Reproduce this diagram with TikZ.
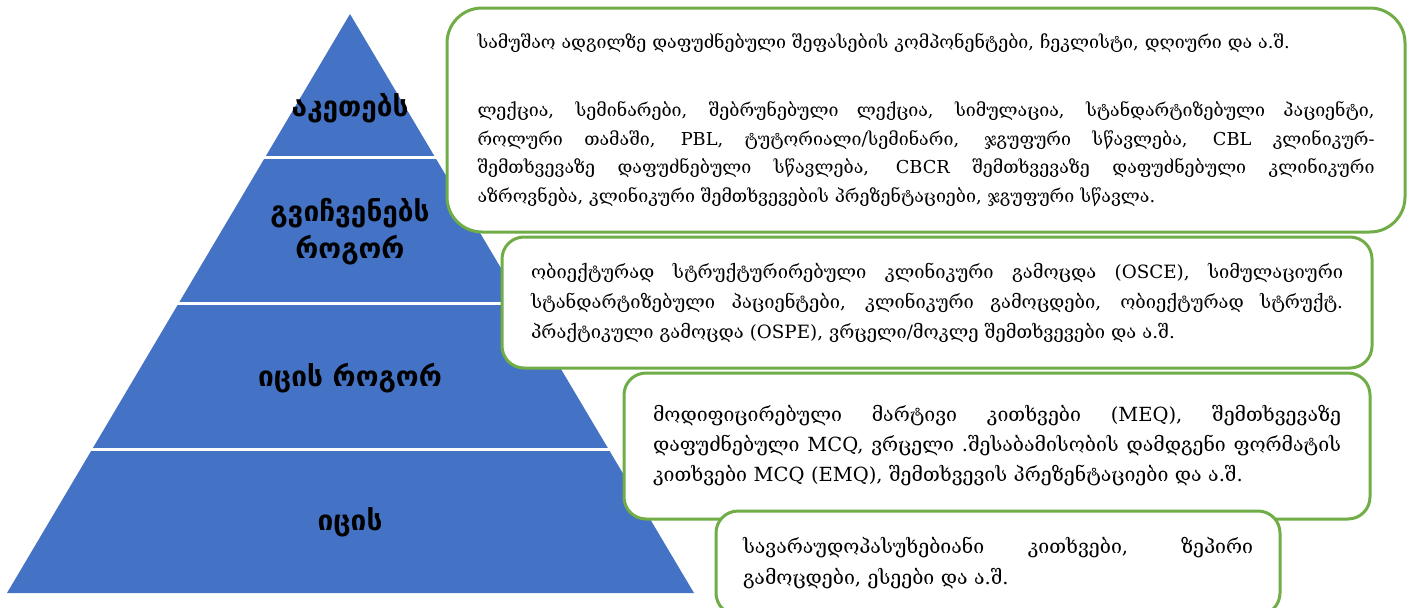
\documentclass[tikz,border=0pt]{standalone}
\usepackage{fontspec}
\setmainfont{DejaVu Serif}
\newfontfamily\labelfont{DejaVu Sans}
\definecolor{pyrblue}{HTML}{4472C4}
\definecolor{boxgreen}{HTML}{70AD47}
\newcommand{\jl}[2]{{\spaceskip=0pt\xspaceskip=0pt\makebox[#1][s]{#2}}}
\begin{document}
\begin{tikzpicture}[x=1pt,y=-1pt,
  box/.style={draw=boxgreen, line width=3pt, fill=white, inner sep=0pt, align=left},
  lvl/.style={font=\labelfont\bfseries\fontsize{28}{37}\selectfont, align=center, text=black},
  sep/.style={draw=white, line width=3pt}]
\useasboundingbox (0,0) rectangle (1409,608);
% pyramid
\coordinate (apex) at (350,14);
\coordinate (bl) at (7,593);
\coordinate (br) at (694,593);
\fill[pyrblue] (apex) -- (bl) -- (br) -- cycle;
\coordinate (s1l) at (262,157); \coordinate (s1r) at (438,157);
\coordinate (s2l) at (175,303); \coordinate (s2r) at (525,303);
\coordinate (s3l) at (89,449);  \coordinate (s3r) at (611,449);
\draw[sep] (s1l) -- (s1r);
\draw[sep] (s2l) -- (s2r);
\draw[sep] (s3l) -- (s3r);
\node[lvl] (l1) at (350,108) {აკეთებს};
\node[lvl] (l2) at (350,232) {გვიჩვენებს\\როგორ};
\node[lvl] (l3) at (350,378) {იცის როგორ};
\node[lvl] (l4) at (350,522) {იცის};
% boxes
\node[box, rounded corners=35pt, minimum width=958pt, minimum height=224pt, text width=897pt,
  font=\fontsize{17.8}{28.5}\selectfont] (b1) at (926,120)
{სამუშაო ადგილზე დაფუძნებული შეფასების კომპონენტები, ჩეკლისტი, დღიური და ა.შ.\\[40pt]
\jl{897pt}{ლექცია, სემინარები, შებრუნებული ლექცია, სიმულაცია, სტანდარტიზებული პაციენტი,}\\
\jl{897pt}{როლური თამაში, PBL, ტუტორიალი/სემინარი, ჯგუფური სწავლება, CBL კლინიკურ-}\\
\jl{897pt}{შემთხვევაზე დაფუძნებული სწავლება, CBCR შემთხვევაზე დაფუძნებული კლინიკური}\\
აზროვნება, კლინიკური შემთხვევების პრეზენტაციები, ჯგუფური სწავლა.};
\node[box, rounded corners=22pt, minimum width=870pt, minimum height=131pt, text width=812pt,
  font=\fontsize{18.3}{30}\selectfont] (b2) at (937,302.5)
{\jl{812pt}{ობიექტურად სტრუქტურირებული კლინიკური გამოცდა (OSCE), სიმულაციური}\\
\jl{812pt}{სტანდარტიზებული პაციენტები, კლინიკური გამოცდები, ობიექტურად სტრუქტ.}\\
პრაქტიკული გამოცდა (OSPE), ვრცელი/მოკლე შემთხვევები და ა.შ.};
\node[box, rounded corners=22pt, minimum width=746pt, minimum height=146pt, text width=688pt,
  font=\fontsize{19.5}{30}\selectfont] (b3) at (997,446)
{\jl{688pt}{მოდიფიცირებული მარტივი კითხვები (MEQ), შემთხვევაზე}\\
\jl{688pt}{დაფუძნებული MCQ, ვრცელი .შესაბამისობის დამდგენი ფორმატის}\\
კითხვები MCQ (EMQ), შემთხვევის პრეზენტაციები და ა.შ.};
\node[box, rounded corners=22pt, minimum width=564pt, minimum height=104pt, text width=510pt,
  font=\fontsize{19.5}{31}\selectfont] (b4) at (998,563)
{\jl{510pt}{სავარაუდოპასუხებიანი კითხვები, ზეპირი}\\
გამოცდები, ესეები და ა.შ.};
\end{tikzpicture}
\end{document}
